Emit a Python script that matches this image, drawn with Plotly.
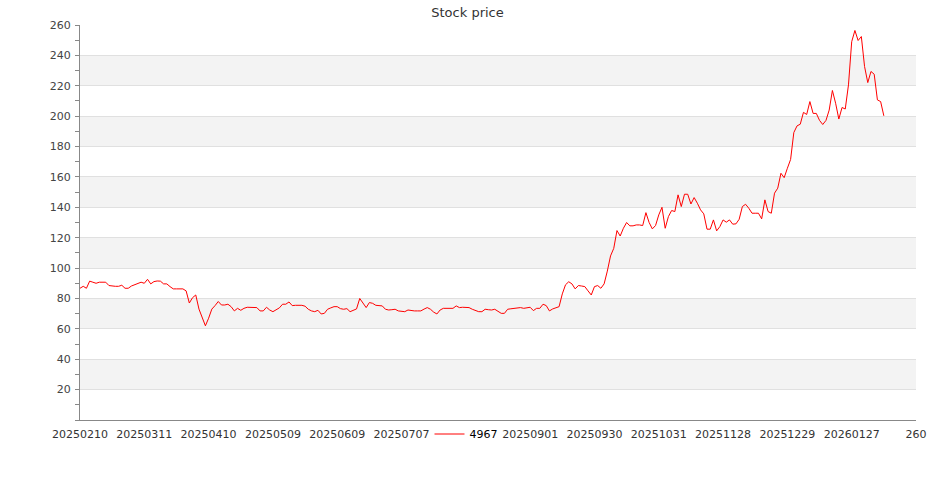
import plotly.graph_objects as go

series_name = "4967"
title_text = "Stock price"

prices = [
    86.7, 88.0, 86.7, 91.4, 90.7, 90.0, 90.7, 90.7, 90.7, 88.5,
    88.0, 88.0, 88.0, 88.7, 86.7, 86.7, 88.2, 88.9, 90.0, 90.7,
    90.0, 92.6, 89.6, 91.1, 91.5, 91.4, 89.6, 89.6, 87.8, 86.3,
    86.3, 86.3, 86.3, 85.0, 77.0, 80.5, 82.3, 73.0, 67.0, 62.0,
    67.0, 73.0, 75.3, 78.0, 75.7, 75.7, 76.2, 74.6, 71.8, 73.5,
    72.2, 73.5, 74.2, 74.2, 73.8, 74.0, 71.8, 71.8, 74.2, 72.4,
    71.3, 72.4, 73.8, 76.2, 76.2, 77.7, 75.3, 75.5, 75.5, 75.5,
    74.9, 72.9, 71.8, 71.3, 72.2, 69.8, 70.2, 72.9, 73.8, 74.6,
    74.6, 73.3, 72.9, 73.3, 71.3, 72.4, 73.1, 80.0, 76.8, 74.0,
    77.3, 76.8, 75.5, 75.3, 75.1, 72.9, 72.4, 72.6, 72.9, 71.8,
    71.5, 71.3, 72.4, 72.0, 71.8, 71.8, 71.8, 73.0, 74.0, 72.9,
    71.0, 69.8, 72.4, 73.5, 73.5, 73.5, 73.5, 75.1, 74.0, 74.2,
    74.1, 74.0, 72.9, 72.0, 71.3, 71.3, 72.9, 72.6, 72.4, 72.9,
    71.8, 70.2, 70.2, 72.9, 73.2, 73.5, 73.5, 74.0, 73.5, 74.0,
    74.2, 72.0, 73.5, 73.5, 76.2, 75.3, 71.8, 73.1, 73.8, 74.6,
    83.0, 89.0, 91.0, 89.6, 86.3, 88.5, 88.2, 87.8, 85.0, 82.3,
    87.8, 88.5, 86.7, 89.6, 98.0, 108.0, 113.0, 124.7, 121.1, 126.2,
    130.0, 127.8, 127.8, 128.4, 128.4, 128.0, 136.5, 130.0, 125.8, 128.0,
    135.0, 140.0, 126.2, 133.9, 137.9, 137.2, 148.2, 140.5, 148.6, 148.6,
    142.2, 146.4, 142.7, 138.3, 135.7, 125.6, 125.6, 131.7, 124.5, 127.3,
    131.7, 130.2, 131.7, 128.9, 129.1, 132.1, 140.5, 142.0, 139.4, 136.1,
    136.1, 136.1, 132.4, 144.9, 137.2, 136.1, 149.3, 152.6, 162.4, 159.5,
    165.7, 171.5, 189.2, 193.6, 194.7, 202.5, 201.1, 209.6, 201.8, 201.8,
    197.2, 194.5, 197.2, 204.0, 216.9, 208.5, 198.1, 205.7, 204.7, 220.6,
    249.0, 256.4, 249.8, 252.4, 232.7, 222.1, 229.4, 227.6, 210.7, 209.6,
    200.2,
]

# tick labels every 20 trading days; the one under the legend is not shown
x_tick_positions = [0, 20, 40, 60, 80, 100, 120, 140, 160, 180, 200, 220, 240, 260]
x_tick_labels = ["20250210", "20250311", "20250410", "20250509", "20250609",
                 "20250707", "", "20250901", "20250930", "20251031",
                 "20251128", "20251229", "20260127", "260"]
y_tick_values = [20, 40, 60, 80, 100, 120, 140, 160, 180, 200, 220, 240, 260]

FONT = "DejaVu Sans"
W, H = 935, 500

fig = go.Figure()
fig.add_trace(go.Scatter(
    x=list(range(len(prices))), y=prices, mode="lines", name=series_name,
    line=dict(color="#ff0000", width=1), showlegend=True,
))

# alternating split-area bands
edges = [0] + y_tick_values
shapes = []
for k in range(len(edges) - 1):
    if k % 2 == 1:
        shapes.append(dict(type="rect", xref="paper", yref="y", x0=0, x1=1,
                           y0=edges[k], y1=edges[k + 1], fillcolor="#f3f3f3",
                           line=dict(width=0), layer="below"))

plot_top, plot_bottom, plot_left, plot_right = 25, 420, 80, 916

fig.update_layout(
    width=W, height=H,
    margin=dict(l=plot_left, r=W - plot_right, t=plot_top, b=H - plot_bottom, autoexpand=False),
    paper_bgcolor="white", plot_bgcolor="white",
    font=dict(family=FONT, size=11, color="#333"),
    title=dict(text=title_text, x=0.5, xref="container", xanchor="center",
               y=1 - 12 / H, yref="container", yanchor="middle",
               font=dict(family=FONT, size=13, color="#333")),
    shapes=shapes,
    legend=dict(orientation="h",
                x=(466 - plot_left) / (plot_right - plot_left), xref="paper", xanchor="center",
                y=(plot_bottom - 434) / (plot_bottom - plot_top), yref="paper", yanchor="middle",
                bgcolor="rgba(0,0,0,0)", font=dict(family=FONT, size=11, color="#000"),
                itemwidth=30, tracegroupgap=0),
    xaxis=dict(range=[0, 260], tickmode="array", tickvals=x_tick_positions,
               ticktext=x_tick_labels, showgrid=False, zeroline=False, automargin=False,
               showline=True, linecolor="#888", linewidth=1, ticks="",
               ticklabelstandoff=4, tickfont=dict(family=FONT, size=11, color="#333")),
    yaxis=dict(range=[0, 260], tickmode="array", tickvals=y_tick_values, automargin=False,
               showgrid=True, gridcolor="#e0e0e0", gridwidth=1, zeroline=False,
               showline=True, linecolor="#888", linewidth=1,
               ticks="outside", ticklen=4, tickcolor="#888",
               minor=dict(dtick=10, tick0=0, ticks="outside", ticklen=4,
                          tickcolor="#888", showgrid=False),
               ticklabelstandoff=2, tickfont=dict(family=FONT, size=11, color="#444")),
)

fig.write_html("out.html", config={"displayModeBar": False},
               post_script="document.body.style.margin='0';")
